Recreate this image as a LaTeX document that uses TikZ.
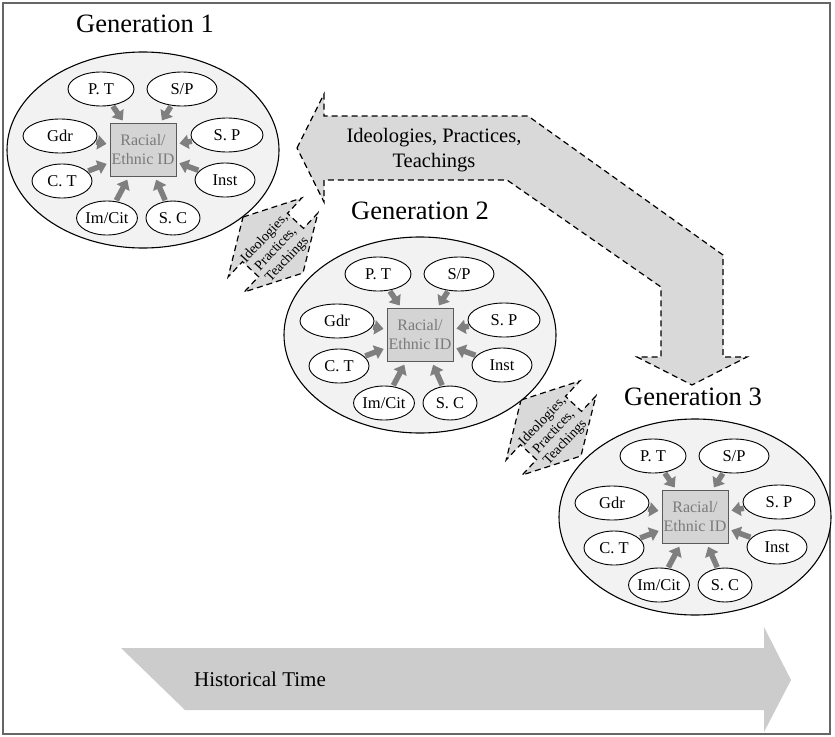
\documentclass[tikz,border=0pt]{standalone}
\usepackage{fontspec}
\setmainfont{Liberation Serif}
\usetikzlibrary{shapes.geometric,arrows.meta,calc}
\definecolor{outerfill}{HTML}{F2F2F2}
\definecolor{boxfill}{HTML}{D4D4D4}
\definecolor{boxline}{HTML}{5A5A5A}
\definecolor{boxtext}{HTML}{7A7A7A}
\definecolor{arrgray}{HTML}{7F7F7F}
\definecolor{bigfill}{HTML}{D9D9D9}
\definecolor{timefill}{HTML}{CCCCCC}
\definecolor{framecol}{HTML}{666666}
\tikzset{
 outerell/.style={ellipse, draw=black, line width=1.1pt, fill=outerfill, minimum width=272pt, minimum height=196pt, inner sep=0pt},
 innerell/.style={ellipse, draw=black, line width=0.9pt, fill=white, minimum height=34pt, inner sep=0pt, font=\fontsize{16.5}{19}\selectfont},
 idbox/.style={rectangle, draw=boxline, line width=1pt, fill=boxfill, minimum width=66pt, minimum height=53pt, inner sep=0pt, align=center, text=boxtext, font=\fontsize{16}{19}\selectfont},
 inarrow/.style={draw=arrgray, line width=5.5pt, -{Triangle[width=14pt,length=9pt]}, shorten >=3pt, shorten <=1pt},
 gentitle/.style={font=\fontsize{26.5}{30}\selectfont, inner sep=0pt},
 flowarrow/.style={fill=bigfill, draw=black, line width=1.2pt, dash pattern=on 6pt off 4pt},
 smalltext/.style={font=\fontsize{14}{15.5}\selectfont, align=center, inner sep=0pt},
}
\newcommand{\gencluster}[6]{%
\begin{scope}[shift={(#2,#3)}]
 \node[outerell] (#1out) at (0,0) {};
 \node[idbox] (#1box) at (0,0) {Racial/\\Ethnic ID};
 \node[innerell, minimum width=66pt] (#1pt) at (-42,-61) {P. T};
 \node[innerell, minimum width=70pt] (#1sp) at (39,-61) {S/P};
 \node[innerell, minimum width=74pt] (#1gdr) at (-83,-14) {Gdr};
 \node[innerell, minimum width=72pt] (#1spp) at (84,-15) {S. P};
 \node[innerell, minimum width=60pt] (#1ct) at (-81,31) {C. T};
 \node[innerell, minimum width=60pt] (#1inst) at (82,30) {Inst};
 \node[innerell, minimum width=56pt] (#1im) at (-36,68) {Im/Cit};
 \node[innerell, minimum width=54pt] (#1sc) at (30,68) {S. C};
 \foreach \n in {pt,sp,gdr,spp,ct,inst,im,sc} \draw[inarrow] (#1\n) -- (#1box);
 \node[gentitle] (#1title) at (#5,#6) {Generation #4};
\end{scope}}
\newcommand{\twoway}[3]{%
\begin{scope}[shift={(#2,#3)}, rotate=-43]
 \draw[flowarrow] (-41pt,0pt) -- (-11pt,54pt) -- (-11pt,33pt) -- (11pt,33pt) -- (11pt,54pt) -- (41pt,0pt) -- (11pt,-54pt) -- (11pt,-33pt) -- (-11pt,-33pt) -- (-11pt,-54pt) -- cycle;
\end{scope}
\node[smalltext, rotate=47] (#1) at ($(#2,#3)+(3,4)$) {Ideologies,\\Practices,\\Teachings};}
\begin{document}
\begin{tikzpicture}[x=1pt,y=-1pt]
\useasboundingbox (0,0) rectangle (835,736);
\draw[framecol, line width=1.2pt] (3,3) rectangle (830,734);
% historical time
\fill[timefill] (121,648) -- (764,648) -- (764,627) -- (791,680) -- (764,732) -- (764,710) -- (185,710) -- cycle;
\node[font=\fontsize{21}{25}\selectfont, anchor=base west, inner sep=0pt] (histtime) at (194,686) {Historical Time};
% big bent arrow
\draw[flowarrow] (297,148) -- (324,94) -- (324,116) -- (528,116) -- (723,255) -- (723,357) -- (747,357) -- (692,385) -- (637,357) -- (661,357) -- (661,287) -- (507,180) -- (324,180) -- (324,202) -- cycle;
\node[font=\fontsize{20.5}{25}\selectfont, align=center, inner sep=0pt] (bigtext) at (434,150) {Ideologies, Practices,\\Teachings};
\twoway{tw1}{273}{245}
\twoway{tw2}{551}{428}
\gencluster{ga}{143}{150}{1}{2}{-126.5}
\gencluster{gb}{420}{335}{2}{0}{-124}
\gencluster{gc}{695}{517}{3}{-2}{-120}
\end{tikzpicture}
\end{document}
